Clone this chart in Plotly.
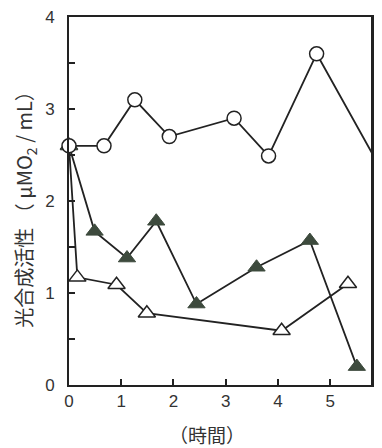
import plotly.graph_objects as go

# Data
circle_x = [0, 0.67, 1.26, 1.92, 3.16, 3.82, 4.74, 5.83]
circle_y = [2.6, 2.6, 3.1, 2.7, 2.9, 2.49, 3.6, 2.49]

filled_x = [0, 0.49, 1.11, 1.67, 2.44, 3.59, 4.61, 5.51]
filled_y = [2.6, 1.67, 1.38, 1.78, 0.88, 1.28, 1.57, 0.2]

open_x = [0, 0.16, 0.91, 1.49, 4.07, 5.34]
open_y = [2.6, 1.17, 1.09, 0.78, 0.59, 1.10]

x_tickvals = [0, 1, 2, 3, 4, 5]
y_tickvals = [0, 0.5, 1, 1.5, 2, 2.5, 3, 3.5, 4]
y_ticktext = ["0", "", "1", "", "2", "", "3", "", "4"]

LINE = "#222222"
FILL = "#3d4a3d"

fig = go.Figure()
fig.add_trace(go.Scatter(
    x=open_x, y=open_y, mode="lines+markers", cliponaxis=False,
    line=dict(color=LINE, width=1.8),
    marker=dict(symbol="triangle-up", size=15, color="white",
                line=dict(color=LINE, width=1.5)),
))
fig.add_trace(go.Scatter(
    x=filled_x, y=filled_y, mode="lines+markers", cliponaxis=False,
    line=dict(color=LINE, width=1.8),
    marker=dict(symbol="triangle-up", size=15, color=FILL,
                line=dict(color=FILL, width=1)),
))
fig.add_trace(go.Scatter(
    x=circle_x, y=circle_y, mode="lines+markers", cliponaxis=False,
    line=dict(color=LINE, width=1.8),
    marker=dict(symbol="circle", size=14, color="white",
                line=dict(color=LINE, width=1.5)),
))

fig.update_layout(
    width=382, height=448,
    margin=dict(l=69, r=8, t=14, b=63),
    plot_bgcolor="white", paper_bgcolor="white",
    showlegend=False,
    font=dict(family="Liberation Sans, Arial, sans-serif", size=17, color="#333"),
)
fig.update_xaxes(
    range=[0, 5.8], tickvals=x_tickvals, ticks="inside", ticklen=6,
    tickcolor=LINE, tickwidth=1.5,
    showline=True, linecolor=LINE, linewidth=2, mirror=True,
    showgrid=False, zeroline=False,
)
fig.update_yaxes(
    range=[0, 4], tickvals=y_tickvals, ticktext=y_ticktext,
    ticks="inside", ticklen=6, tickcolor=LINE, tickwidth=1.5,
    showline=True, linecolor=LINE, linewidth=2, mirror=True,
    showgrid=False, zeroline=False, ticklabelstandoff=9,
)
# right-hand frame edge drawn on top of everything
fig.add_shape(type="line", xref="paper", yref="paper", x0=1, x1=1, y0=0, y1=1,
              line=dict(color=LINE, width=2), layer="above")
fig.add_annotation(
    text="光合成活性 （ μMO<sub>2</sub> / mL）", textangle=-90,
    xref="paper", yref="paper", x=-0.145, y=0.49, xanchor="center", yanchor="middle",
    showarrow=False, font=dict(family="Noto Sans CJK JP", size=20, color="#333"),
)
fig.add_annotation(
    text="（時間）",
    xref="paper", yref="paper", x=0.456, y=-0.135, xanchor="center", yanchor="middle",
    showarrow=False, font=dict(family="Noto Sans CJK JP", size=19, color="#333"),
)
# remove the default page margin so the figure sits at the window's corner
fig.write_html(
    "out.html",
    config={"displayModeBar": False},
    post_script="document.body.style.margin='0';document.body.style.overflow='hidden';",
)
